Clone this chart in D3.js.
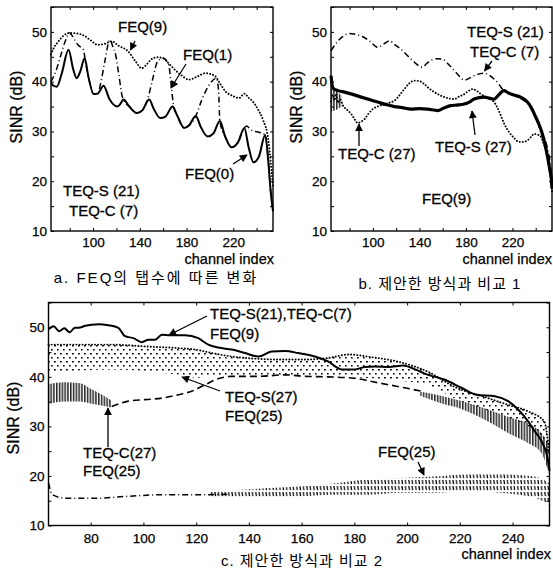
<!DOCTYPE html>
<html lang="ko">
<head>
<meta charset="utf-8">
<title>SINR vs channel index</title>
<script src="https://d3js.org/d3.v7.min.js"></script>
<style>
  body { margin: 0; background: #fff; }
  svg { display: block; font-family: "Liberation Sans", Arial, "Noto Sans CJK KR", sans-serif; }
  .tick text { font-size: 13.5px; fill: #000; stroke: #000; stroke-width: 0.25px; }
  .tick line { stroke: #000; stroke-width: 1; }
  .note { font-size: 15px; fill: #000; stroke: #000; stroke-width: 0.3px; }
  .ylab { font-size: 16px; fill: #000; stroke: #000; stroke-width: 0.3px; }
  .axl { font-size: 14.5px; fill: #000; stroke: #000; stroke-width: 0.25px; }
  .cap { font-size: 15px; fill: #000; font-family: "Liberation Sans", "Noto Sans CJK KR", sans-serif; }
</style>
</head>
<body>
<div id="vis"></div>
<script>
// ---- data : [channel index, SINR dB] ----
const channelDomain = [64, 254];
const sinrDomain = [10, 55];

// a. FEQ tap count
const feq0A = [[64,39.8],[66,39.2],[69,39.0],[73,41.5],[79,46.4],[83,42.5],[86,40.7],[89,42],[92.8,44.7],[96,41],[100.5,37.5],[104,37.6],[109,39.2],[114,36.5],[120.7,35],[123,35.4],[126,36.4],[131,35],[137.4,33.7],[142,34.2],[148,36.4],[152,34.5],[157.5,32.7],[162,33],[168,35],[172,33.2],[178,30.7],[182,31.2],[188,33.1],[192,31],[198,29],[203,29.6],[208.5,32.1],[213,29],[218.6,26.8],[224,27.8],[229.5,30.7],[233,27],[237.3,23.8],[242,25],[247.3,29.3],[250,24],[252,18],[254,14]];
const feq9A = [[64,45.5],[66,46.6],[70,48],[75,49.3],[80,49.8],[86,49.7],[92.6,49.2],[98,48.3],[104,47.4],[110,47.6],[115.8,48.1],[122,47.2],[130,46.1],[136,44.2],[141.7,42.7],[146,43.5],[150,44.5],[155,44.9],[160,44.7],[165,43.6],[170,42.4],[176,41.2],[182,40.4],[189,41],[196,41.7],[201,41.5],[205,41],[209,39.5],[213.5,38],[219,37.2],[225,36.7],[229.6,37.6],[233,36.8],[236.8,36],[241,34.5],[245.5,32.3],[250,28.3],[252,24],[254,19]];
const feq1A = [[64,40],[68,42],[72,45],[76,48],[79.8,49.8],[84,48.5],[87,47.4],[91.9,46.4],[93,44.7],[96,41],[100.5,37.5],[104,37.6],[106.3,39.4],[110,44],[114.4,48.4],[117,47],[119.3,45.4],[122,41.5],[125,37],[126,36.4],[131,35],[137.4,33.7],[142,34.2],[146.6,36.4],[151,40.5],[155.3,44.1],[160,44.7],[164.7,43.4],[167,39],[169,35],[172,33.2],[178,30.7],[182,31.2],[188,33.1],[193,36.3],[198.5,39],[205.6,40.7],[207.5,38],[208.5,32.1],[213,29],[218.6,26.8],[224,27.8],[229.5,30.7],[231.5,31.1],[234,30.6],[236.8,30.1],[242.5,29.8],[247.3,29.3],[250,24],[252,18],[254,14]];

// b. comparison 1
const teqS21B = [[64,46.2],[70,48.2],[75,49.2],[80,49.7],[85,49.5],[90,49.2],[97,48.2],[104.3,46.9],[109,47.5],[114.3,48.2],[119,47.4],[124.2,46.5],[129,45.4],[134.3,44.2],[142.8,42.9],[146,43.6],[150,44.3],[155,44.6],[160,44.5],[165,43.5],[170,42.2],[174,41.2],[178.6,40.3],[183,40.7],[187,41.2],[195.7,41.7],[200,41.3],[204.3,40.5],[208,39.6],[211.4,38.5],[216,37.8],[221.4,37.2],[230,36.2],[234,35.5],[237,34.2],[240,33],[242.8,30.9],[248.5,28],[252.5,23.5],[254,20]];
const teqS27B = [[64,41.2],[65.7,38.7],[70,38.2],[75.7,37.9],[82,37.5],[90,36.9],[97,36.4],[104.3,35.9],[111,35.4],[118.6,35],[125,34.8],[132.8,34.5],[140,34.6],[147,34.5],[155.7,34.2],[161,34.7],[167,35.2],[172,35.3],[178.6,35.5],[183,35.9],[187,36.5],[195.7,36.9],[200,36.7],[204.3,36.5],[208,37.3],[212.8,38.2],[216,37.8],[220,37.4],[227,36.9],[231,36.3],[234.3,35.5],[237,34.4],[240,32.9],[243,31.3],[245.7,29.5],[249.7,25.5],[252,22.5],[253.5,20.2],[254,18.5]];
const teqC27B = [[64,36],[65.5,37.4],[67,36.2],[68.5,37.6],[70,35.8],[72,36.4],[74.3,35.2],[78,34.3],[81.4,33.5],[84,32.6],[87,31.7],[90,32],[92.9,32.5],[96,33.5],[100,34.5],[105,35.1],[110,35.5],[118.6,36.2],[123,37.3],[127,38.5],[131,39.6],[135.7,40.2],[140,40.1],[144.3,39.5],[148,38.7],[152.9,37.9],[161.4,36.9],[170,36.5],[174,37],[178.6,37.5],[182,38.1],[185.7,38.5],[189,38.2],[192.9,37.5],[198,36.8],[204.3,35.9],[207,34.8],[210,33.2],[213,31.5],[217,29.9],[221,28.8],[225.7,27.9],[229,27.9],[232.9,28.2],[236,28.9],[238.6,29.5],[241,29.4],[244.3,29],[246,28],[248.6,26.3],[251,23.5],[252.9,20.9],[254,18]];
// [channel, upper, lower] spread of the noisy start of TEQ-C(27)
const teqC27SpreadB = [[64,38.5,34],[67,38.3,34.2],[70,37.8,34.5],[73,37.2,35]];

// c. comparison 2
const teqS21C = [[64,49.6],[66,50.2],[68,49.2],[70,49.8],[72,49],[74,49.9],[75.4,49.9],[78,50.3],[80.4,50.5],[83,50.6],[86.7,50.4],[90.5,49.9],[93,48.2],[96.2,47.8],[99.4,47.0],[101.9,47.5],[104.5,47.5],[107,48.5],[110,48.4],[115.8,48.4],[120.8,47.8],[124.6,46.5],[128.4,45.9],[133.5,45.5],[138.5,44.8],[143.6,44.1],[148.6,45.1],[153.7,45.2],[158.7,44.8],[165,44.1],[170,43.1],[175.2,41.5],[180.2,41.5],[184,42],[187.8,42.1],[193,42],[198.5,42.3],[203,41.5],[208,40.4],[214.3,39.4],[220.6,37.8],[226.3,36.4],[233.3,36.1],[238.3,35.1],[242.1,33.4],[245.9,31.0],[248.4,29.0],[251,27.0],[253.5,23.0],[254,21]];
// [channel, upper, lower] envelopes of the oscillating curves
const teqS27C = [[64,46.5,40.8],[88,46.5,41.5],[102,46.1,41.1],[113.3,45.8,40.4],[120.8,45.4,39.8],[123.4,45.1,40],[133.5,44.1,40.3],[145,43.6,40.4],[151.2,43.5,40.4],[161,43.5,40.3],[170,43.8,40.1],[178,44.5,40],[186,44,39.7],[197,43,39.2],[208,41,38.3],[218.7,37.8,35.5],[229,36,33.5],[238,34.4,31.8],[246,33,30],[252,31,27],[254,24,20]];
const teqC27C = [[88,34],[94.3,35.1],[100.6,35.4],[107,35.7],[113.3,36.4],[118.3,37.1],[123.4,38.4],[127.2,39.4],[133.5,40.1],[143.6,40.1],[153.7,40.4],[161.3,40.1],[170,40],[180,39.7],[189,38.8],[199,37.8],[205.4,37.1]];
const teqC27SpreadLeftC = [[64,38.5,34.5],[70,38.9,35],[76,38.7,35],[80,37.6,34.6],[84,36.5,34.2],[88,35.2,33.8]];
const teqC27SpreadRightC = [[205,37,36.2],[212,36.3,34.8],[220.6,35.1,33.5],[230.7,33.4,31.0],[239.6,31.7,28.3],[246,30.6,26.6],[251,28.6,24.6],[254,26,20]];
const feq25C = [[64,18.6],[65.5,16.2],[70.6,15.5],[82,15.5],[94.3,15.9],[107,16.2],[119.6,16.2],[132,16.3]];
const feq25SpreadC = [[125,16.8,15.8],[140,17.3,15.6],[150,17.6,15.7],[161,17.9,15.9],[172,18.5,16.2],[185,19.3,16.2],[197.6,19.6,16.6],[210,19.9,16.6],[223,20.3,16.9],[235.7,20.3,16.6],[248.4,19.9,15.6],[254,18.5,14.2]];

const yTicks = [10, 15, 20, 25, 30, 35, 40, 45, 50, 55];
const xTicksAB = [80, 100, 120, 140, 160, 180, 200, 220, 240];
const xLabelsAB = [100, 140, 180, 220];
const xTicksC = [80, 100, 120, 140, 160, 180, 200, 220, 240];

// ---- drawing ----
const svg = d3.select('#vis').append('svg').attr('width', 553).attr('height', 570);
svg.append('rect').attr('width', 553).attr('height', 570).attr('fill', '#fff');

const defs = svg.append('defs');
defs.append('marker').attr('id', 'head')
  .attr('viewBox', '0 0 10 10').attr('refX', 9).attr('refY', 5)
  .attr('markerWidth', 7).attr('markerHeight', 6).attr('orient', 'auto')
  .append('path').attr('d', 'M0,0L10,5L0,10Z').attr('fill', '#000');

// vertical hatching for curves that swing every channel
const hatch = defs.append('pattern').attr('id', 'hatch').attr('patternUnits', 'userSpaceOnUse')
  .attr('width', 2.8).attr('height', 6);
hatch.append('line').attr('x1', 0.8).attr('x2', 0.8).attr('y1', 0).attr('y2', 6)
  .attr('stroke', '#000').attr('stroke-width', 1.3);
const hatch2 = defs.append('pattern').attr('id', 'hatch2').attr('patternUnits', 'userSpaceOnUse')
  .attr('width', 3.4).attr('height', 6);
hatch2.append('line').attr('x1', 0.7).attr('x2', 1.4).attr('y1', 0).attr('y2', 4.2)
  .attr('stroke', '#000').attr('stroke-width', 1.2);
// dot rows for the dotted band
const dots = defs.append('pattern').attr('id', 'dots').attr('patternUnits', 'userSpaceOnUse')
  .attr('width', 6).attr('height', 8);
dots.append('rect').attr('x', 0).attr('y', 1).attr('width', 1.8).attr('height', 1.5).attr('fill', '#000');
dots.append('rect').attr('x', 3).attr('y', 5).attr('width', 1.6).attr('height', 1.5).attr('fill', '#000');

const styles = {
  solid: { w: 2, dash: null },
  thick: { w: 3.2, dash: null },
  dotted: { w: 1.9, dash: '0.1,3', cap: 'round' },
  dashdot: { w: 1.5, dash: '6,3,1,3' },
  dashed: { w: 1.6, dash: '7,4' }
};

function panel(cfg) {
  const x = d3.scaleLinear().domain(channelDomain).range(cfg.xr);
  const y = d3.scaleLinear().domain(sinrDomain).range(cfg.yr);
  const g = svg.append('g');

  const line = d3.line().x(d => x(d[0])).y(d => y(d[1])).curve(d3.curveMonotoneX);
  const band = d3.area().x(d => x(d[0])).y0(d => y(d[2])).y1(d => y(d[1])).curve(d3.curveMonotoneX);

  (cfg.bands || []).forEach(b => {
    g.append('path').datum(b.data).attr('d', band).attr('fill', `url(#${b.fill})`);
  });
  cfg.series.forEach(s => {
    const st = styles[s.style];
    const p = g.append('path').datum(s.data).attr('d', line)
      .attr('fill', 'none').attr('stroke', '#000').attr('stroke-width', st.w)
      .attr('stroke-linejoin', 'round');
    if (st.dash) p.attr('stroke-dasharray', st.dash);
    if (st.cap) p.attr('stroke-linecap', st.cap);
  });

  // frame
  g.append('rect').attr('x', cfg.xr[0]).attr('y', cfg.yr[1])
    .attr('width', cfg.xr[1] - cfg.xr[0]).attr('height', cfg.yr[0] - cfg.yr[1])
    .attr('fill', 'none').attr('stroke', '#000').attr('stroke-width', 1.4);

  const xAxis = d3.axisBottom(x).tickValues(cfg.xTicks).tickSizeInner(-3).tickSizeOuter(0)
    .tickPadding(cfg.xPad).tickFormat(d => cfg.xLabels.includes(d) ? d : '');
  g.append('g').attr('transform', `translate(0,${cfg.yr[0]})`).call(xAxis).call(a => a.select('.domain').remove());
  g.append('g').attr('transform', `translate(0,${cfg.yr[1]})`)
    .call(d3.axisTop(x).tickValues(cfg.xTicks).tickSizeInner(-3).tickSizeOuter(0).tickFormat(''))
    .call(a => a.select('.domain').remove());
  const yAxis = d3.axisLeft(y).tickValues(yTicks).tickSizeInner(-3).tickSizeOuter(0)
    .tickPadding(4).tickFormat(d => d % 10 === 0 && d < 55 ? d : '');
  g.append('g').attr('transform', `translate(${cfg.xr[0]},0)`).call(yAxis).call(a => a.select('.domain').remove());
  g.append('g').attr('transform', `translate(${cfg.xr[1]},0)`)
    .call(d3.axisRight(y).tickValues(yTicks).tickSizeInner(-3).tickSizeOuter(0).tickFormat(''))
    .call(a => a.select('.domain').remove());
  g.selectAll('.tick text').attr('font-family', null).attr('font-size', null);

  g.append('text').attr('class', 'ylab').attr('text-anchor', 'middle')
    .attr('transform', `translate(${cfg.yLabel[0]},${cfg.yLabel[1]}) rotate(-90)`)
    .attr('dy', '0.35em').text('SINR (dB)');
  g.append('text').attr('class', 'axl').attr('text-anchor', 'end')
    .attr('x', cfg.xLabel[0]).attr('y', cfg.xLabel[1]).text('channel index');
  g.append('text').attr('class', 'cap').attr('text-anchor', 'middle')
    .attr('letter-spacing', cfg.caption[3])
    .attr('x', cfg.caption[0]).attr('y', cfg.caption[1]).text(cfg.caption[2]);

  cfg.notes.forEach(n => {
    g.append('text').attr('class', 'note').attr('x', n[0]).attr('y', n[1]).text(n[2]);
  });
  cfg.arrows.forEach(a => {
    g.append('line').attr('x1', a[0]).attr('y1', a[1]).attr('x2', a[2]).attr('y2', a[3])
      .attr('stroke', '#000').attr('stroke-width', 1.3).attr('marker-end', 'url(#head)');
  });
}

panel({
  xr: [51, 273], yr: [231, 7], xTicks: xTicksAB, xLabels: xLabelsAB, xPad: 6,
  series: [
    { data: feq9A, style: 'dotted' },
    { data: feq1A, style: 'dashdot' },
    { data: feq0A, style: 'solid' }
  ],
  yLabel: [16, 107], xLabel: [274, 264], caption: [156, 283, 'a. FEQ의 탭수에 따른 변화', '2px'],
  notes: [[118, 32, 'FEQ(9)'], [183, 60, 'FEQ(1)'], [185, 179, 'FEQ(0)'], [63, 196, 'TEQ-S (21)'], [69, 216, 'TEQ-C (7)']],
  arrows: [[135, 41, 130.5, 50], [186, 64, 171, 88], [233, 164, 247, 155]]
});

panel({
  xr: [331, 552], yr: [231, 7], xTicks: xTicksAB, xLabels: xLabelsAB, xPad: 6,
  bands: [{ data: teqC27SpreadB, fill: 'hatch' }],
  series: [
    { data: teqC27B, style: 'dotted' },
    { data: teqS21B, style: 'dashdot' },
    { data: teqS27B, style: 'thick' }
  ],
  yLabel: [296, 107], xLabel: [552, 264], caption: [440, 289, 'b. 제안한 방식과 비교 1', '1px'],
  notes: [[467, 37, 'TEQ-S (21)'], [470, 57, 'TEQ-C (7)'], [338, 159, 'TEQ-C (27)'], [435, 152, 'TEQ-S (27)'], [422, 204, 'FEQ(9)']],
  arrows: [[492, 61, 484.5, 71], [359, 146, 359, 124], [475, 135, 472, 111]]
});

panel({
  xr: [48.5, 549.5], yr: [525.5, 302.5], xTicks: xTicksC, xLabels: xTicksC, xPad: 7.5,
  bands: [
    { data: teqS27C, fill: 'dots' },
    { data: teqC27SpreadLeftC, fill: 'hatch' },
    { data: teqC27SpreadRightC, fill: 'hatch' },
    { data: feq25SpreadC, fill: 'hatch2' }
  ],
  series: [
    { data: teqS27C.map(d => [d[0], d[1]]), style: 'dotted' },
    { data: teqC27C, style: 'dashed' },
    { data: feq25C, style: 'dashdot' },
    { data: teqS21C, style: 'solid' }
  ],
  yLabel: [13, 418], xLabel: [551, 559], caption: [302, 566, 'c. 제안한 방식과 비교 2', '1px'],
  notes: [[210, 319, 'TEQ-S(21),TEQ-C(7)'], [210, 339, 'FEQ(9)'], [225, 402, 'TEQ-S(27)'], [225, 421, 'FEQ(25)'],
          [83, 458, 'TEQ-C(27)'], [83, 476, 'FEQ(25)'], [378, 457, 'FEQ(25)']],
  arrows: [[207, 316, 169, 335], [220, 391, 182, 377], [108, 447, 108, 408], [418, 462, 424, 475]]
});
</script>
</body>
</html>
